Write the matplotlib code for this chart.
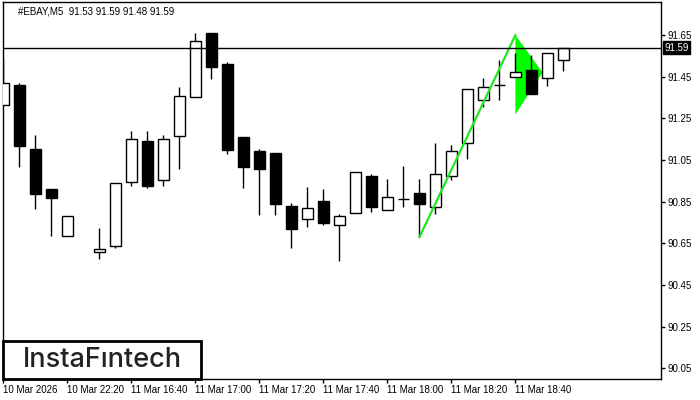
import numpy as np
import matplotlib
matplotlib.use("Agg")
import matplotlib.pyplot as plt
from matplotlib.patches import Rectangle, Polygon
import matplotlib.transforms as mtransforms

# M5 candles, bar 5 has no print on the chart
opens = [91.315, 91.41, 91.103, 90.911, 90.687, np.nan, 90.61, 90.639, 90.946, 91.141,
         90.955, 91.167, 91.351, 91.66, 91.511, 91.16, 91.093, 91.084, 90.829, 90.768,
         90.853, 90.739, 90.797, 90.972, 90.809, 90.861, 90.892, 90.826, 90.972, 91.13,
         91.339, 91.409, 91.45, 91.482, 91.442, 91.53]
highs = [91.538, 91.421, 91.17, 90.911, 90.781, np.nan, 90.722, 90.938, 91.189, 91.189,
         91.17, 91.40, 91.66, 91.66, 91.519, 91.16, 91.103, 91.084, 90.844, 90.92,
         90.911, 90.791, 90.992, 90.983, 90.959, 91.021, 90.959, 91.132, 91.123, 91.391,
         91.445, 91.53, 91.564, 91.554, 91.564, 91.59]
lows = [91.315, 91.018, 90.815, 90.685, 90.687, np.nan, 90.576, 90.629, 90.927, 90.917,
        90.927, 91.008, 91.351, 91.44, 91.08, 90.917, 90.786, 90.786, 90.629, 90.73,
        90.739, 90.567, 90.797, 90.799, 90.809, 90.826, 90.68, 90.79, 90.954, 91.055,
        91.306, 91.339, 91.45, 91.367, 91.407, 91.48]
closes = [91.418, 91.117, 90.887, 90.869, 90.781, np.nan, 90.623, 90.938, 91.151, 90.927,
          91.151, 91.36, 91.62, 91.498, 91.099, 91.018, 91.007, 90.839, 90.719, 90.818,
          90.749, 90.78, 90.992, 90.826, 90.871, 90.861, 90.84, 90.983, 91.092, 91.391,
          91.40, 91.409, 91.472, 91.367, 91.564, 91.59]

time_labels = ["10 Mar 2026", "10 Mar 22:20", "11 Mar 16:40", "11 Mar 17:00", "11 Mar 17:20",
               "11 Mar 17:40", "11 Mar 18:00", "11 Mar 18:20", "11 Mar 18:40"]
time_label_bars = [0, 4, 8, 12, 16, 20, 24, 28, 32]
price_ticks = [90.05, 90.25, 90.45, 90.65, 90.85, 91.05, 91.25, 91.45, 91.65]
last_price = 91.59

# bullish pennant: pole from bar 26 low to bar 32, flag triangle
pole_x = [26, 32]
pole_y = [90.68, 91.65]
flag_x = [32, 33.7, 32]
flag_y = [91.65, 91.47, 91.269]

plt.rcParams['font.family'] = ['Liberation Sans', 'DejaVu Sans']

fig = plt.figure(figsize=(7, 4), dpi=100)
ax = fig.add_axes([3 / 700, 21 / 400, 658 / 700, 377 / 400])

o = np.array(opens)
h = np.array(highs)
l = np.array(lows)
c = np.array(closes)
x = np.arange(len(o))
ok = ~np.isnan(o)

ax.vlines(x[ok], l[ok], h[ok], color='black', linewidth=1, zorder=3)
up = ok & (c >= o)
dn = ok & (c < o)
ax.bar(x[up], c[up] - o[up], bottom=o[up], width=0.66, color='white',
       edgecolor='black', linewidth=1, zorder=4)
ax.bar(x[dn], o[dn] - c[dn], bottom=c[dn], width=0.66, color='black',
       edgecolor='black', linewidth=1, zorder=4)

ax.add_patch(Polygon(list(zip(flag_x, flag_y)), closed=True, facecolor='#00ff00',
                     edgecolor='none', zorder=2))
ax.plot(pole_x, pole_y, color='#1ee81e', linewidth=1.6, zorder=5)

ax.axhline(last_price, color='black', linewidth=1, zorder=5)

ax.set_xlim(-0.03, 41.1)
ax.set_ylim(89.999, 91.809)

ax.yaxis.tick_right()
ax.set_yticks(price_ticks)
ax.set_yticklabels([f"{p:.2f}" for p in price_ticks])
ax.set_xticks(time_label_bars)
ax.set_xticklabels(time_labels, ha='left')
ax.tick_params(axis='both', direction='out', length=3, width=1, labelsize=7, pad=2, colors='black')
ax.tick_params(axis='x', pad=1.5)
for sp in ax.spines.values():
    sp.set_linewidth(1)
    sp.set_color('black')

trans = mtransforms.blended_transform_factory(ax.transAxes, ax.transData)
ax.text(1.005, last_price, "91.59", transform=trans, fontsize=7, color='white',
        ha='left', va='center', zorder=6,
        bbox=dict(boxstyle='square,pad=0.15', facecolor='black', edgecolor='black'))

ax.text(0.0228, 0.976, "#EBAY,M5  91.53 91.59 91.48 91.59", transform=ax.transAxes,
        fontsize=7, ha='left', va='center', color='black')

ax.add_patch(Rectangle((0.0, 0.0), 0.301, 0.1016, transform=ax.transAxes, facecolor='white',
                       edgecolor='black', linewidth=2, zorder=7, clip_on=False))
ax.text(0.1505, 0.0504, "InstaF\u0131ntech", transform=ax.transAxes, fontsize=19.5,
        family=['Inter', 'DejaVu Sans'], fontweight='medium', color='#222222',
        ha='center', va='center', zorder=8)

fig.savefig("out.png", dpi=100)
